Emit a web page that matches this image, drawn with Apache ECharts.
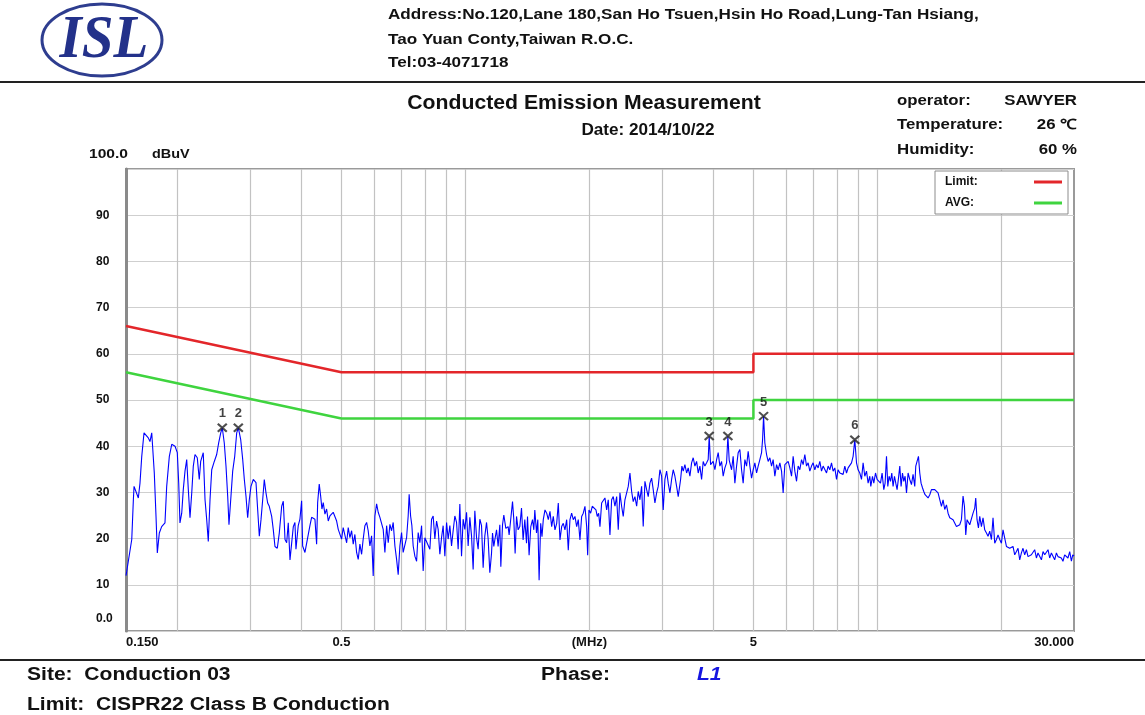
<!DOCTYPE html>
<html>
<head>
<meta charset="utf-8">
<script src="https://cdn.jsdelivr.net/npm/echarts@6/dist/echarts.min.js"></script>
<style>
  html, body { margin: 0; padding: 0; background: #fff; }
  #chart { width: 1145px; height: 715px; }
</style>
</head>
<body>
<div id="chart"></div>
<script>
const trace = [
  [0.15,12.0],[0.1506,12.9],[0.1549,19.8],[0.1563,28.4],[0.1569,31.3],[0.1586,31.0],[0.1607,28.8],[0.1622,32.0],[0.1638,37.8],[0.1659,42.9],
  [0.1677,43.3],[0.1699,41.8],[0.1715,41.0],[0.1732,42.9],[0.1747,42.5],[0.1757,34.2],[0.1774,24.8],[0.1787,16.9],[0.1807,21.2],[0.1831,22.6],
  [0.1865,23.4],[0.1883,31.3],[0.1911,37.8],[0.1937,40.4],[0.1973,40.0],[0.1998,38.6],[0.2014,32.0],[0.2028,23.4],[0.2048,25.5],[0.2066,30.6],
  [0.2086,34.6],[0.2106,37.1],[0.2125,30.6],[0.2145,24.5],[0.2166,29.9],[0.2185,35.7],[0.2206,38.2],[0.2234,37.5],[0.2259,32.8],[0.2277,36.7],
  [0.2298,36.3],[0.2310,38.6],[0.2333,28.4],[0.2355,24.1],[0.2376,19.4],[0.2399,28.4],[0.2422,34.9],[0.2457,36.7],[0.2490,38.2],[0.2518,40.7],
  [0.2547,42.9],[0.2569,44.0],[0.2598,40.7],[0.2623,35.7],[0.2648,29.2],[0.2667,23.0],[0.2697,29.2],[0.2723,34.6],[0.2754,37.8],[0.2785,42.9],
  [0.2810,44.0],[0.2848,41.4],[0.2880,37.1],[0.2906,32.8],[0.2933,29.2],[0.2961,24.5],[0.2988,28.4],[0.3016,31.3],[0.3055,32.8],[0.3102,32.1],
  [0.3131,26.3],[0.3160,20.5],[0.3190,24.1],[0.3220,28.4],[0.3249,32.8],[0.3280,29.9],[0.3311,27.7],[0.3341,27.0],[0.3386,24.8],[0.3417,21.9],
  [0.3449,18.3],[0.3494,17.9],[0.3533,21.2],[0.3581,27.0],[0.3613,28.1],[0.3648,19.8],[0.3682,19.1],[0.3715,23.4],[0.3751,15.4],[0.3821,22.6],
  [0.3856,23.5],[0.3878,17.7],[0.3928,22.8],[0.3965,24.2],[0.4003,28.2],[0.4026,18.4],[0.4078,17.0],[0.4117,16.6],[0.4193,22.8],[0.4233,24.6],
  [0.4312,24.2],[0.4353,18.8],[0.4378,27.8],[0.4417,31.8],[0.4451,29.3],[0.4484,26.4],[0.4517,27.8],[0.4560,25.3],[0.4603,26.4],[0.4645,23.8],
  [0.4689,24.9],[0.4776,25.7],[0.4868,23.8],[0.4912,22.0],[0.5005,19.9],[0.5050,22.4],[0.5148,19.1],[0.5194,22.4],[0.5243,20.2],[0.5293,21.7],
  [0.5341,18.8],[0.5391,20.9],[0.5443,17.0],[0.5492,15.5],[0.5544,18.8],[0.5597,16.6],[0.5647,19.9],[0.5701,22.8],[0.5756,23.5],[0.5807,21.7],
  [0.5863,18.4],[0.5919,20.6],[0.5972,11.9],[0.6029,24.9],[0.6087,27.5],[0.6141,25.7],[0.6200,24.6],[0.6315,22.0],[0.6375,17.0],[0.6437,22.8],
  [0.6495,19.1],[0.6556,23.1],[0.6618,21.7],[0.6678,23.5],[0.6742,18.4],[0.6806,15.5],[0.6867,12.2],[0.6932,18.4],[0.6998,21.3],[0.7061,17.0],
  [0.7197,20.2],[0.7261,24.9],[0.7301,29.6],[0.7360,24.9],[0.7413,22.8],[0.7467,18.4],[0.7538,16.2],[0.7611,15.1],[0.7679,21.3],[0.7752,19.1],
  [0.7826,22.8],[0.7896,13.0],[0.7971,20.2],[0.8048,20.6],[0.8197,17.7],[0.8275,24.2],[0.8349,24.9],[0.8429,19.9],[0.8510,23.8],[0.8586,22.0],
  [0.8668,16.6],[0.8750,20.2],[0.8829,22.8],[0.8913,16.2],[0.8999,23.5],[0.9080,19.9],[0.9166,22.8],[0.9253,18.4],[0.9336,21.7],[0.9425,24.9],
  [0.9516,23.5],[0.9601,17.7],[0.9692,27.5],[0.9784,16.2],[0.9872,24.2],[0.9966,22.0],[1.0062,25.7],[1.0152,18.4],[1.0249,24.6],[1.0346,20.6],
  [1.0440,13.3],[1.0539,26.0],[1.0641,20.2],[1.0736,17.7],[1.0838,24.2],[1.0941,22.8],[1.1040,13.7],[1.1145,20.6],[1.1252,23.5],[1.1353,19.9],
  [1.1460,12.6],[1.1569,16.8],[1.1634,21.2],[1.1719,18.3],[1.1784,19.7],[1.1898,21.9],[1.2004,18.3],[1.2119,23.0],[1.2187,13.9],[1.2303,23.0],
  [1.2393,25.1],[1.2532,22.2],[1.2695,22.6],[1.2765,20.8],[1.2865,23.7],[1.3010,28.0],[1.3105,24.1],[1.3201,16.8],[1.3305,24.8],[1.3424,21.9],
  [1.3551,22.6],[1.3680,26.6],[1.3803,19.7],[1.3935,24.1],[1.4069,19.0],[1.4147,24.8],[1.4273,16.4],[1.4410,22.6],[1.4548,24.1],[1.4654,21.9],
  [1.4736,26.2],[1.4877,21.2],[1.4985,24.1],[1.5094,11.0],[1.5228,23.3],[1.5339,20.4],[1.5451,24.1],[1.5598,26.2],[1.5748,25.5],[1.5890,24.1],
  [1.6040,25.9],[1.6192,22.6],[1.6338,24.8],[1.6494,21.9],[1.6653,23.3],[1.6802,27.7],[1.6961,19.7],[1.7122,22.6],[1.7277,23.3],[1.7441,21.9],
  [1.7609,24.1],[1.7767,17.5],[1.7935,24.1],[1.8105,25.5],[1.8269,24.1],[1.8443,24.8],[1.8620,22.6],[1.8787,24.1],[1.8966,19.7],[1.9146,24.8],
  [1.9319,25.5],[1.9503,27.0],[1.9690,22.6],[1.9800,16.4],[1.9945,26.2],[2.0133,25.5],[2.0314,27.0],[2.0508,27.0],[2.0739,26.2],[2.0889,24.8],
  [2.1054,25.5],[2.1208,22.6],[2.1409,27.7],[2.1602,27.4],[2.1808,28.8],[2.2018,26.2],[2.2215,28.4],[2.2426,20.8],[2.2639,28.4],[2.2843,29.1],
  [2.3061,27.0],[2.3283,29.1],[2.3491,21.9],[2.3714,29.9],[2.3939,27.0],[2.4155,24.8],[2.4385,28.4],[2.4620,29.9],[2.4840,31.3],[2.5077,34.2],
  [2.5315,30.2],[2.5543,28.0],[2.5787,29.1],[2.6035,27.0],[2.6268,30.2],[2.6517,28.4],[2.6769,31.3],[2.7010,22.6],[2.7267,32.4],[2.7530,30.6],
  [2.7777,29.1],[2.8040,32.0],[2.8306,33.1],[2.8562,30.6],[2.8834,27.7],[2.9111,29.9],[2.9372,31.3],[2.9651,34.9],[2.9933,33.5],[3.0202,26.2],
  [3.0490,32.8],[3.0784,34.6],[3.1059,32.0],[3.1355,29.9],[3.1653,32.8],[3.1938,34.9],[3.2242,33.5],[3.2553,31.3],[3.2844,29.1],[3.3026,28.8],
  [3.3285,32.8],[3.3527,35.7],[3.3773,34.6],[3.4094,36.0],[3.4423,34.2],[3.4731,35.3],[3.5061,33.5],[3.5394,36.4],[3.5713,37.5],[3.6053,35.7],
  [3.6400,36.7],[3.6726,34.2],[3.7075,35.7],[3.7427,32.8],[3.7765,36.7],[3.8124,35.7],[3.8491,36.4],[3.8836,37.1],[3.9051,42.2],[3.9358,36.0],
  [3.9577,35.7],[3.9934,36.7],[4.0314,34.9],[4.0703,37.1],[4.1067,38.6],[4.1457,35.7],[4.1851,36.7],[4.2228,33.5],[4.2630,35.3],[4.3041,36.4],
  [4.3352,42.2],[4.3667,37.0],[4.4254,34.9],[4.4653,37.8],[4.5079,32.0],[4.5513,35.7],[4.5920,38.6],[4.6357,39.3],[4.6797,34.9],[4.7219,32.0],
  [4.7669,37.1],[4.8128,35.7],[4.8559,38.9],[4.9020,35.7],[4.9486,33.1],[4.9932,34.9],[5.0407,36.4],[5.0893,34.2],[5.1348,35.7],[5.1836,37.1],
  [5.2328,38.6],[5.2624,41.4],[5.2919,46.5],[5.3303,40.7],[5.3816,38.2],[5.4298,36.7],[5.4814,37.5],[5.5335,35.7],[5.5834,37.1],[5.6365,33.5],
  [5.6908,36.0],[5.7418,34.9],[5.7963,36.4],[5.8514,34.6],[5.9041,29.9],[5.9603,36.0],[6.0177,35.7],[6.0716,36.7],[6.1293,35.3],[6.1875,33.5],
  [6.2433,37.8],[6.3028,34.6],[6.3634,32.4],[6.4204,35.7],[6.4814,34.9],[6.5430,37.1],[6.6020,36.0],[6.6648,38.2],[6.7290,35.7],[6.7893,36.4],
  [6.8537,34.6],[6.9188,35.7],[6.9812,36.4],[7.0477,34.9],[7.1155,36.0],[7.1793,35.3],[7.2474,36.7],[7.3163,34.6],[7.3822,35.7],[7.4525,36.0],
  [7.5242,34.2],[7.5917,35.7],[7.6638,34.9],[7.7366,36.4],[7.8063,34.6],[7.8807,35.3],[7.9566,32.8],[8.0278,34.9],[8.1040,34.2],[8.1810,34.6],
  [8.2547,33.9],[8.3333,35.7],[8.4136,34.2],[8.4889,35.3],[8.5696,34.9],[8.6510,36.4],[8.7290,37.8],[8.8121,41.4],[8.8970,36.4],[8.9767,34.9],
  [9.0619,34.2],[9.1480,32.8],[9.2305,36.4],[9.3184,33.5],[9.4081,34.6],[9.4923,32.0],[9.5825,33.5],[9.636,31.3],[9.728,33.5],[9.799,32.0],
  [9.893,34.2],[9.981,32.8],[10.077,33.1],[10.173,32.0],[10.264,34.2],[10.362,30.6],[10.438,32.0],[10.520,37.8],[10.596,31.3],[10.673,33.5],
  [10.757,32.4],[10.835,34.2],[10.914,31.3],[11.000,33.5],[11.080,32.0],[11.161,30.6],[11.249,33.1],[11.331,35.7],[11.414,31.3],[11.503,34.2],
  [11.587,32.4],[11.672,33.5],[11.764,29.9],[11.869,34.2],[11.981,32.8],[12.095,31.7],[12.204,33.9],[12.320,31.3],[12.390,35.7],[12.479,36.7],
  [12.578,37.8],[12.670,34.2],[12.762,32.0],[12.863,31.0],[12.956,30.2],[13.051,29.5],[13.154,29.2],[13.272,28.8],[13.398,29.5],[13.525,30.6],
  [13.647,30.2],[13.777,30.6],[13.910,30.2],[14.034,29.9],[14.167,29.5],[14.302,27.0],[14.431,28.4],[14.568,26.3],[14.708,27.3],[14.840,25.5],
  [14.981,24.5],[15.123,24.8],[15.260,24.1],[15.405,23.7],[15.553,22.6],[15.693,22.3],[15.842,23.0],[15.992,24.1],[16.137,29.2],[16.263,27.0],
  [16.382,20.8],[16.501,24.1],[16.631,24.5],[16.752,23.0],[16.911,23.4],[17.064,25.5],[17.226,26.6],[17.323,28.8],[17.449,24.1],[17.586,22.3],
  [17.714,24.8],[17.882,22.6],[18.043,24.5],[18.215,21.9],[18.391,21.2],[18.555,20.5],[18.732,21.6],[18.910,19.8],[19.080,24.5],[19.262,19.0],
  [19.448,19.8],[19.622,20.8],[19.808,19.8],[19.996,19.0],[20.176,21.9],[20.369,20.1],[20.565,18.3],[20.749,18.7],[20.946,17.9],[21.145,17.6],
  [21.336,18.3],[21.539,16.5],[21.746,17.2],[21.941,17.9],[22.149,15.4],[22.359,16.9],[22.561,17.9],[22.776,16.5],[22.995,17.6],[23.201,16.1],
  [23.42,15.8],[23.642,16.5],[23.856,16.9],[24.083,17.6],[24.315,15.8],[24.532,16.9],[24.77,16.5],[25.005,15.4],[25.231,17.2],[25.471,16.5],
  [25.716,16.1],[25.947,17.6],[26.19,15.8],[26.439,16.9],[26.677,16.5],[26.931,15.4],[27.190,16.9],[27.434,16.1],[27.69,16.5],[27.953,15.8],
  [28.205,15.1],[28.474,16.5],[28.748,16.9],[29.005,15.8],[29.29,17.2],[29.568,15.1],[29.785,16.5],[30,16.2]
]

// CISPR22 class B limits, [MHz, dBuV]
const limitQP = [[0.15, 66], [0.5, 56], [5, 56], [5, 60], [30, 60]]
const limitAVG = [[0.15, 56], [0.5, 46], [5, 46], [5, 50], [30, 50]]

// peak markers
const markerMHz = [0.2569, 0.2810, 3.9051, 4.3352, 5.2919, 8.8121]
const markerDb = [44.0, 44.0, 42.2, 42.2, 46.5, 41.4]
const markerNames = ['1', '2', '3', '4', '5', '6']

// axes
const gridMHz = [0.2, 0.3, 0.4, 0.5, 0.6, 0.7, 0.8, 0.9, 1, 2, 3, 4, 5, 6, 7, 8, 9, 10, 20]
const xTickMHz = [0.15, 0.5, 2, 5, 30]
const xTickText = ['0.150', '0.5', '(MHz)', '5', '30.000']

const font = '"Liberation Sans", Arial, sans-serif'
const chart = echarts.init(document.getElementById('chart'), null, { renderer: 'canvas' })

// header/footer text; the scan is stretched sideways so text gets a scaleX
const txt = (x, y, text, size, sx = 1, extra = {}) => ({
  type: 'text', x, y, scaleX: sx,
  style: Object.assign({
    text, fill: '#111', font: `bold ${size}px ${font}`,
    align: 'left', verticalAlign: 'middle', textAlign: 'left', textVerticalAlign: 'middle',
  }, extra),
})
const right = { align: 'right', textAlign: 'right' }
const center = { align: 'center', textAlign: 'center' }

chart.setOption({
  animation: false,
  backgroundColor: '#fff',
  grid: {
    left: 126, right: 71, top: 169, bottom: 84,
    show: true, borderColor: '#9a9a9a', borderWidth: 2,
  },
  legend: {
    data: ['Limit', 'AVG'],
    orient: 'vertical',
    left: 935, top: 171,
    align: 'right',
    icon: 'rect', itemWidth: 28, itemHeight: 3, itemGap: 9,
    padding: [5, 6, 5, 10],
    borderColor: '#8c8c8c', borderWidth: 1, backgroundColor: '#fff',
    selectedMode: false,
    formatter: n => `{t|${n}:}`,
    textStyle: { rich: { t: { width: 84, align: 'left', fontSize: 12, fontWeight: 'bold', color: '#111', fontFamily: font } } },
  },
  xAxis: {
    type: 'log', logBase: 10, min: 0.15, max: 30,
    axisLine: { show: false },
    axisTick: { show: false },
    splitLine: { show: false },
    axisLabel: {
      customValues: xTickMHz,
      alignMinLabel: 'left', alignMaxLabel: 'right',
      margin: 5,
      fontSize: 13, fontWeight: 'bold', color: '#111', fontFamily: font,
      formatter: v => {
        let best = 0
        xTickMHz.forEach((t, i) => {
          if (Math.abs(Math.log(t / v)) < Math.abs(Math.log(xTickMHz[best] / v))) best = i
        })
        return xTickText[best]
      },
    },
  },
  yAxis: {
    type: 'value', min: 0, max: 100, interval: 10,
    axisLine: { show: true, lineStyle: { color: '#8a8a8a', width: 3 } },
    axisTick: { show: false },
    splitLine: { lineStyle: { color: '#cfcfcf', width: 1 } },
    axisLabel: {
      align: 'left', margin: 30,
      fontSize: 12, fontWeight: 'bold', color: '#111', fontFamily: font,
      formatter: v => (v === 100 ? '' : v === 0 ? '{z|0.0}' : String(v)),
      rich: { z: { padding: [0, 0, 24, 0], fontSize: 12, fontWeight: 'bold', color: '#111', fontFamily: font } },
    },
  },
  series: [
    {
      name: 'trace', type: 'line', data: trace,
      showSymbol: false, symbol: 'none', z: 3,
      lineStyle: { color: '#0000ff', width: 1.1 },
      markLine: {
        silent: true, symbol: ['none', 'none'], z: 1,
        label: { show: false },
        lineStyle: { color: '#c2c2c2', type: 'solid', width: 1.2 },
        data: gridMHz.map(f => ({ xAxis: f })),
      },
    },
    {
      name: 'Limit', type: 'line', data: limitQP, showSymbol: false, symbol: 'none', z: 4,
      itemStyle: { color: '#e3262a' },
      lineStyle: { color: '#e3262a', width: 2.5 },
    },
    {
      name: 'AVG', type: 'line', data: limitAVG, showSymbol: false, symbol: 'none', z: 4,
      itemStyle: { color: '#3fd43f' },
      lineStyle: { color: '#3fd43f', width: 2.5 },
    },
    {
      name: 'markers', type: 'scatter', z: 5,
      data: markerMHz.map((f, i) => [f, markerDb[i]]),
      symbol: 'path://M0,0L10,10M10,0L0,10', symbolSize: [9, 8],
      itemStyle: { color: 'none', borderColor: '#222', borderWidth: 2 },
      label: {
        show: true, position: 'top', distance: 1,
        formatter: p => markerNames[p.dataIndex],
        fontSize: 13, fontWeight: 'bold', color: '#111', fontFamily: font,
      },
    },
  ],
  graphic: [
    { type: 'ellipse', shape: { cx: 102, cy: 40, rx: 60, ry: 36 }, style: { fill: '#fff', stroke: '#2e3d8f', lineWidth: 3 } },
    txt(104, 41, 'ISL', 62, 0.92, { font: 'italic bold 62px "Liberation Serif", serif', fill: '#23318a', ...center }),
    txt(388, 15, 'Address:No.120,Lane 180,San Ho Tsuen,Hsin Ho Road,Lung-Tan Hsiang,', 14.5, 1.18),
    txt(388, 40, 'Tao Yuan Conty,Taiwan R.O.C.', 14.5, 1.18),
    txt(388, 63, 'Tel:03-4071718', 14.5, 1.18),
    { type: 'rect', shape: { x: 0, y: 81, width: 1145, height: 2 }, style: { fill: '#222' } },
    txt(584, 103, 'Conducted Emission Measurement', 20, 1.06, center),
    txt(648, 131, 'Date: 2014/10/22', 16, 1.07, center),
    txt(897, 101, 'operator:', 14, 1.2),
    txt(1077, 101, 'SAWYER', 14, 1.2, right),
    txt(897, 125, 'Temperature:', 14, 1.2),
    txt(1077, 125, '26 ℃', 14, 1.2, right),
    txt(897, 150, 'Humidity:', 14, 1.2),
    txt(1077, 150, '60 %', 14, 1.2, right),
    txt(89, 155, '100.0', 12, 1.3),
    txt(152, 155, 'dBuV', 12, 1.2),
    { type: 'rect', shape: { x: 0, y: 659, width: 1145, height: 2 }, style: { fill: '#222' } },
    txt(27, 675, 'Site:  Conduction 03', 18, 1.17),
    txt(541, 675, 'Phase:', 18, 1.17),
    txt(697, 675, 'L1', 18, 1.17, { font: `italic bold 18px ${font}`, fill: '#1515e0' }),
    txt(27, 705, 'Limit:  CISPR22 Class B Conduction', 18, 1.17),
  ],
})
</script>
</body>
</html>
